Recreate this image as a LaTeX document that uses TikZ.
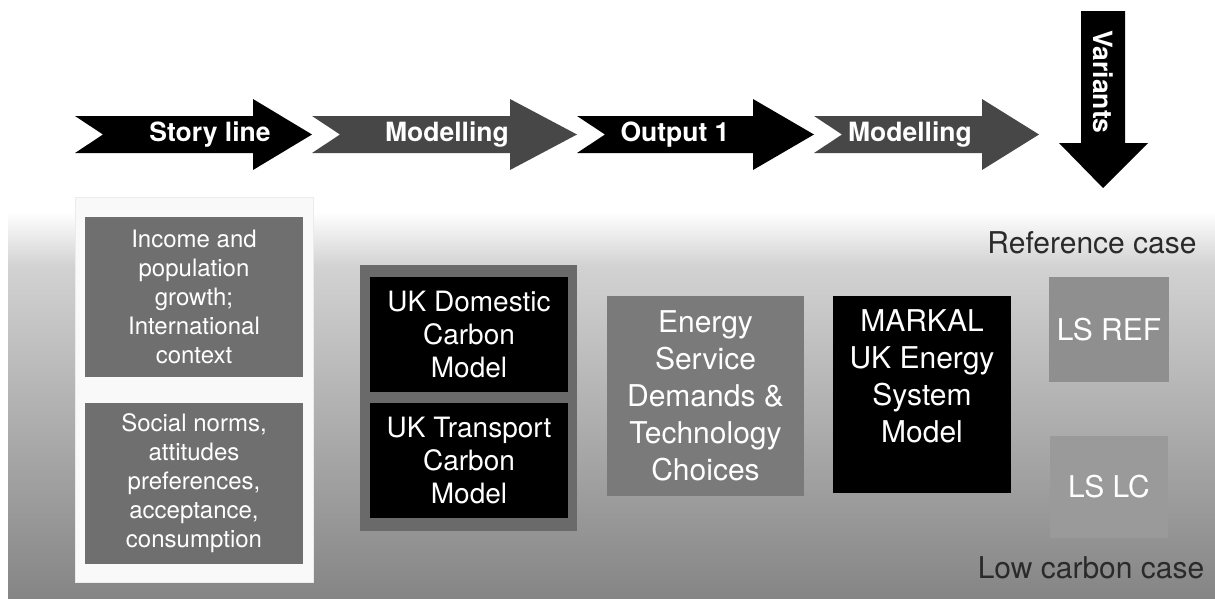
\documentclass[tikz,border=0pt]{standalone}
\usepackage{fontspec}
\setmainfont{TeX Gyre Heros}
\usepackage{tikz}
\usetikzlibrary{positioning,calc}

\definecolor{arrowgray}{HTML}{474747}
\definecolor{boxgray}{HTML}{6F6F6F}
\definecolor{groupgray}{HTML}{6A6A6A}
\definecolor{esdgray}{HTML}{7A7A7A}
\definecolor{refgray}{HTML}{8F8F8F}
\definecolor{lcgray}{HTML}{9A9A9A}
\definecolor{panelwhite}{HTML}{F9F9F9}
\definecolor{casegray}{HTML}{2A2A2A}
\definecolor{bgbottom}{HTML}{858585}
\definecolor{bgmid}{HTML}{D2D2D2}
\pgfdeclareverticalshading{bgfade}{100bp}{color(0bp)=(bgbottom); color(25bp)=(bgbottom); color(68bp)=(bgmid); color(75bp)=(white); color(100bp)=(white)}

\begin{document}
\begin{tikzpicture}[x=1pt,y=-1pt,
box/.style={rectangle,inner sep=0pt,text=white,align=center},
arrtext/.style={text=white,font=\bfseries\fontsize{26.5}{30}\selectfont},
small/.style={font=\fontsize{24}{29}\selectfont},
mid/.style={font=\fontsize{28}{33}\selectfont},
big/.style={font=\fontsize{30}{37}\selectfont}]
\useasboundingbox (0,0) rectangle (1215,598);
\shade[shading=bgfade] (8,212) rectangle (1215,598);

% process arrows
\foreach \xa/\xh/\xt/\col in {75/253/312/black,312/510/577/arrowgray,577/753/814/black,814/982/1039/arrowgray}
  \fill[\col] (\xa,116) -- (\xh,116) -- (\xh,99) -- (\xt,134.5) -- (\xh,170) -- (\xh,153) -- (\xa,153) -- ({\xa+28},134.5) -- cycle;
\fill[black] (1081,11) -- (1125,11) -- (1125,143) -- (1148,143) -- (1103,188) -- (1059,143) -- (1081,143) -- cycle;

\node (story) at (210,134.5) [arrtext] {Story line};
\node (model1) at (447,134.5) [arrtext] {Modelling};
\node (out1) at (675,134.5) [arrtext] {Output 1};
\node (model2) at (910,134.5) [arrtext] {Modelling};
\node (variants) at (1103,82) [arrtext,rotate=-90] {Variants};

% story line panel
\node (panel) at (194,389.5) [box,fill=panelwhite,draw=black!8,minimum width=238pt,minimum height=385pt] {};
\node (income) at (194,297) [box,fill=boxgray,minimum width=218pt,minimum height=160pt,small] {Income and\\population\\growth;\\International\\context};
\node (social) at (194,483.5) [box,fill=boxgray,minimum width=218pt,minimum height=161pt,small] {Social norms,\\attitudes\\preferences,\\acceptance,\\consumption};

% modelling boxes
\node (ukgroup) at (468.5,398) [box,fill=groupgray,minimum width=217pt,minimum height=266pt] {};
\node (ukdom) at (469,334.5) [box,fill=black,minimum width=198pt,minimum height=115pt,mid] {UK Domestic\\Carbon\\Model};
\node (uktrans) at (469,460.5) [box,fill=black,minimum width=198pt,minimum height=115pt,mid] {UK Transport\\Carbon\\Model};

\node (esd) at (705.5,396) [box,fill=esdgray,minimum width=197pt,minimum height=200pt,big] {Energy\\Service\\Demands \&\\Technology\\Choices};
\node (markal) at (922,394.5) [box,fill=black,minimum width=178pt,minimum height=197pt] {};
\node (markaltxt) at (922,376) [box,big] {MARKAL\\UK Energy\\System\\Model};

% variants
\node (refcase) at (1092,243) [big,text=casegray] {Reference case};
\node (lsref) at (1109,329.5) [box,fill=refgray,minimum width=120pt,minimum height=105pt,big] {LS REF};
\node (lslc) at (1109,487) [box,fill=lcgray,minimum width=118pt,minimum height=102pt,big] {LS LC};
\node (lccase) at (1091,568) [big,text=casegray] {Low carbon case};
\end{tikzpicture}
\end{document}
